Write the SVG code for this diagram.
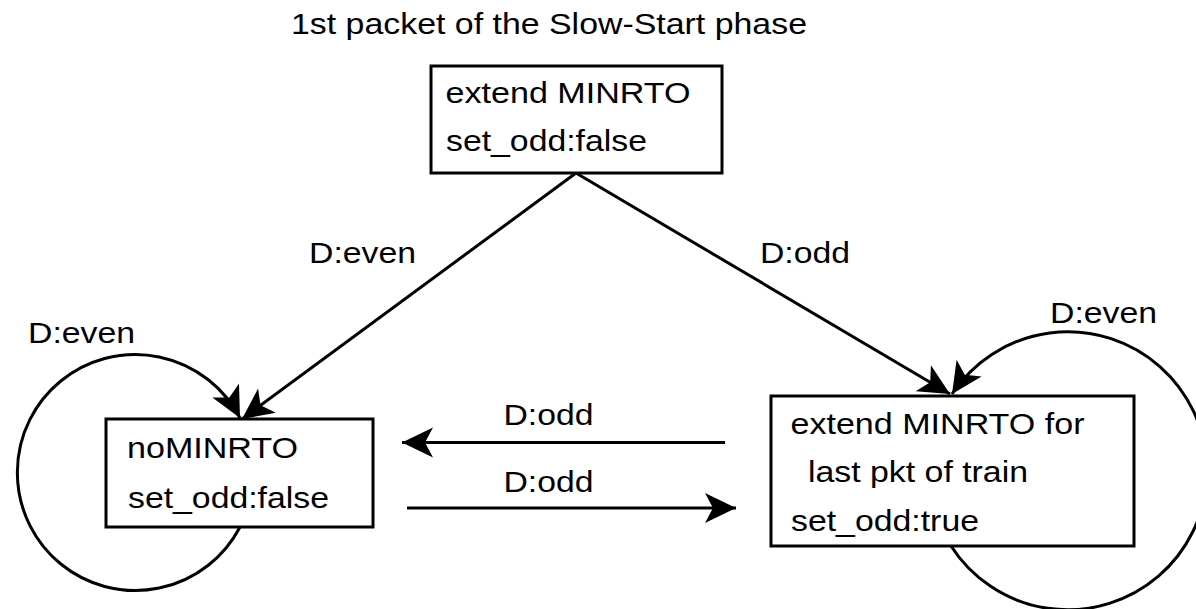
<svg xmlns="http://www.w3.org/2000/svg" width="1196" height="609" viewBox="0 0 1196 609">
<style>
text{font-family:"Liberation Sans",Arial,Helvetica,sans-serif;font-size:30px;fill:#000}
.box{fill:#fff;stroke:#000;stroke-width:3}
.edge{fill:none;stroke:#000;stroke-width:3;marker-end:url(#arr)}
</style>
<defs>
<marker id="arr" markerUnits="userSpaceOnUse" viewBox="-34 -18 36 36" markerWidth="36" markerHeight="36" refX="0" refY="0" orient="auto" overflow="visible">
<path d="M0,0 L-31,-15 L-23,0 L-31,15 Z" fill="#000"/>
</marker>
</defs>
<rect width="1196" height="609" fill="#fff"/>
<text x="291" y="33.5" textLength="516" lengthAdjust="spacingAndGlyphs">1st packet of the Slow-Start phase</text>
<g id="connectors">
<path class="edge" d="M576,173 L242,419"/>
<path class="edge" d="M576,173 L950,394"/>
<path class="edge" d="M240,527 A118,118 0 1 1 240,418"/>
<path class="edge" d="M951,546 A139,139 0 1 0 952,394"/>
<path class="edge" d="M725,442.5 L402,442.5"/>
<path class="edge" d="M407,508 L736,508"/>
<text x="309" y="263" textLength="107" lengthAdjust="spacingAndGlyphs">D:even</text>
<text x="760" y="263" textLength="90" lengthAdjust="spacingAndGlyphs">D:odd</text>
<text x="1050" y="323" textLength="107" lengthAdjust="spacingAndGlyphs">D:even</text>
<text x="28" y="343" textLength="107" lengthAdjust="spacingAndGlyphs">D:even</text>
<text x="503.5" y="425" textLength="90" lengthAdjust="spacingAndGlyphs">D:odd</text>
<text x="503.5" y="491.5" textLength="90" lengthAdjust="spacingAndGlyphs">D:odd</text>
</g>
<g id="start">
<rect class="box" x="431" y="66" width="291" height="107"/>
<text x="445.5" y="102.5" textLength="245" lengthAdjust="spacingAndGlyphs">extend MINRTO</text>
<text x="446" y="150.5" textLength="201" lengthAdjust="spacingAndGlyphs">set_odd:false</text>
</g>
<g id="nominrto">
<rect class="box" x="106" y="419" width="267" height="108"/>
<text x="127" y="458" textLength="171" lengthAdjust="spacingAndGlyphs">noMINRTO</text>
<text x="128" y="508" textLength="201" lengthAdjust="spacingAndGlyphs">set_odd:false</text>
</g>
<g id="extend">
<rect class="box" x="771" y="396" width="363" height="150"/>
<text x="790.5" y="434" textLength="294" lengthAdjust="spacingAndGlyphs">extend MINRTO for</text>
<text x="808" y="482" textLength="220" lengthAdjust="spacingAndGlyphs">last pkt of train</text>
<text x="791" y="530.5" textLength="188" lengthAdjust="spacingAndGlyphs">set_odd:true</text>
</g>
</svg>
